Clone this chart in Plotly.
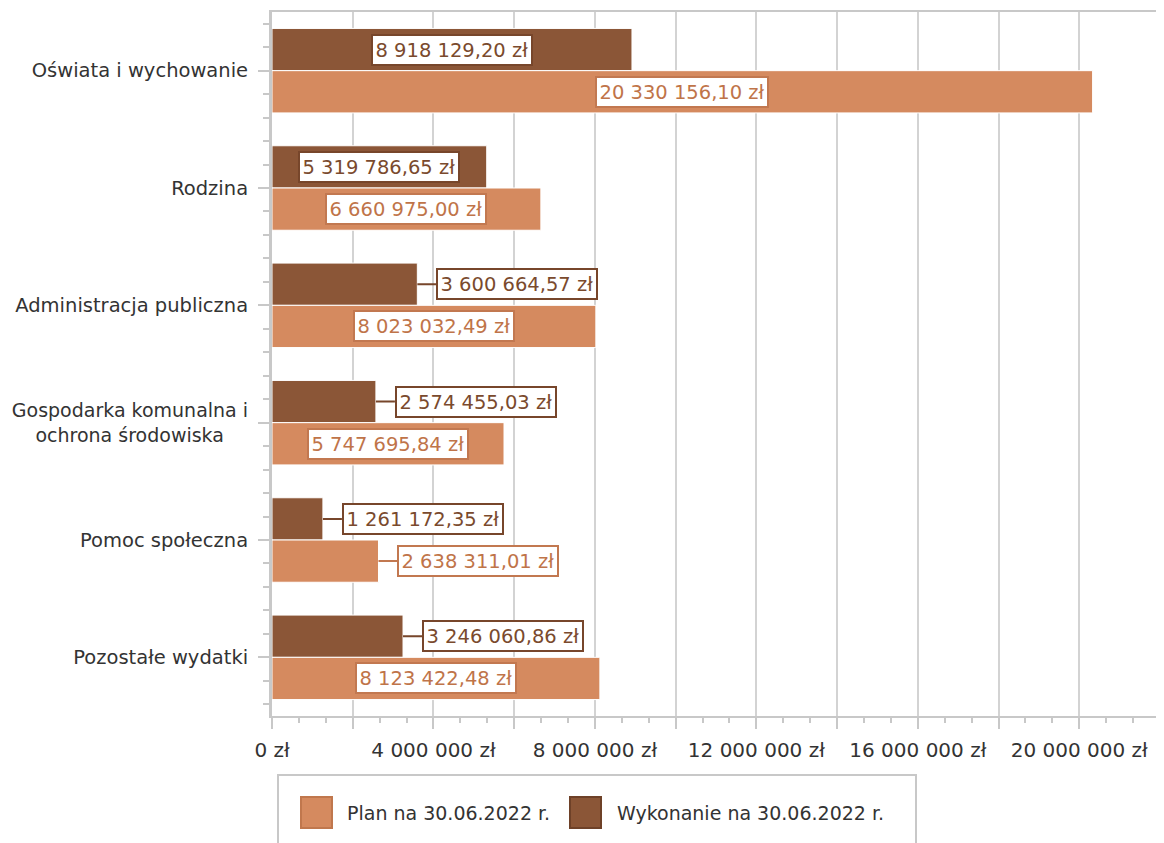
import plotly.graph_objects as go

categories = [
    "Oświata i wychowanie",
    "Rodzina",
    "Administracja publiczna",
    "<span style='font-size:19px'>Gospodarka komunalna i<br>ochrona środowiska&nbsp;&nbsp;&nbsp;&nbsp;</span>",
    "Pomoc społeczna",
    "Pozostałe wydatki",
]
plan_values = [20330156.10, 6660975.00, 8023032.49, 5747695.84, 2638311.01, 8123422.48]
wykonanie_values = [8918129.20, 5319786.65, 3600664.57, 2574455.03, 1261172.35, 3246060.86]
series_names = ["Plan na 30.06.2022 r.", "Wykonanie na 30.06.2022 r."]
x_tick_values = [0, 2e6, 4e6, 6e6, 8e6, 10e6, 12e6, 14e6, 16e6, 18e6, 20e6, 22e6]
x_tick_labels = ["0 zł", "", "4 000 000 zł", "", "8 000 000 zł", "", "12 000 000 zł", "",
                 "16 000 000 zł", "", "20 000 000 zł", ""]

FONT = "DejaVu Sans"
DARK = "#8B5637"
ORANGE = "#D58A5F"
DARK_TXT = "#7A4A2D"
ORANGE_TXT = "#BF7449"
DARK_BORDER = "#77462B"
ORANGE_BORDER = "#C27850"
GRID = "#D3D3D3"
AXIS = "#C8C8C8"
TXT = "#333333"

# page offset of the figure div (browser body margin)
OFF = 8
W, H = 1164 - OFF, 843 - OFF
ML, MR, MT, MB = 272 - OFF, 4, 12 - OFF, 127
PW, PH = W - ML - MR, H - MT - MB

BARGAP = 0.28
bar_w = (1 - BARGAP) / 2
INSIDE_MIN = 4.5e6

idx = list(range(len(categories)))

fig = go.Figure()
fig.add_trace(go.Bar(
    y=idx, x=wykonanie_values, orientation="h", name=series_names[1],
    marker=dict(color=DARK, line=dict(color="white", width=1)),
    showlegend=False, hoverinfo="x",
))
fig.add_trace(go.Bar(
    y=idx, x=plan_values, orientation="h", name=series_names[0],
    marker=dict(color=ORANGE, line=dict(color="white", width=1)),
    showlegend=False, hoverinfo="x",
))


def fmt(v):
    return f"{v:,.2f}".replace(",", " ").replace(".", ",") + " zł"


def add_label(val, yc, txt_color, border_color):
    common = dict(
        text=fmt(val), y=yc, xref="x", yref="y",
        font=dict(family=FONT, size=19.5, color=txt_color),
        bgcolor="white", bordercolor=border_color, borderwidth=2, borderpad=2.5,
    )
    if val >= INSIDE_MIN:
        fig.add_annotation(x=val / 2, showarrow=False, **common)
    else:
        fig.add_annotation(x=val, showarrow=True, ax=19, ay=0, axref="pixel", ayref="pixel",
                           xanchor="left", arrowhead=0, arrowwidth=2,
                           arrowcolor=border_color, standoff=0, **common)


for i in idx:
    add_label(wykonanie_values[i], i - bar_w / 2, DARK_TXT, DARK_BORDER)
    add_label(plan_values[i], i + bar_w / 2, ORANGE_TXT, ORANGE_BORDER)


def px(x):
    return (x - OFF - ML) / PW


def py(y):
    return (OFF + H - MB - y) / PH


# legend frame and items
fig.add_shape(type="rect", xref="paper", yref="paper",
              x0=px(278), x1=px(916), y0=py(775), y1=py(870),
              line=dict(color=AXIS, width=2), fillcolor="rgba(0,0,0,0)")
legend_items = [(ORANGE, "#C0774D", series_names[0], 301, 345),
                (DARK, "#6E4128", series_names[1], 570, 615)]
for fill, edge, name, sx, tx in legend_items:
    fig.add_shape(type="rect", xref="paper", yref="paper",
                  x0=px(sx), x1=px(sx + 31), y0=py(797), y1=py(828),
                  line=dict(color=edge, width=2), fillcolor=fill)
    fig.add_annotation(xref="paper", yref="paper", x=px(tx), y=py(813),
                       xanchor="left", yanchor="middle", showarrow=False, text=name,
                       font=dict(family=FONT, size=19, color=TXT))

fig.update_layout(
    width=W, height=H,
    margin=dict(l=ML, r=MR, t=MT, b=MB, autoexpand=False),
    paper_bgcolor="white", plot_bgcolor="white",
    barmode="group", bargap=BARGAP, bargroupgap=0,
    showlegend=False,
    font=dict(family=FONT, size=19, color=TXT),
    xaxis=dict(
        range=[0, 22e6], tickmode="array", tickvals=x_tick_values, ticktext=x_tick_labels,
        showgrid=True, gridcolor=GRID, gridwidth=2, zeroline=False,
        showline=True, linecolor=AXIS, linewidth=2, mirror=True,
        ticks="outside", ticklen=11, tickwidth=2, tickcolor=AXIS,
        tickfont=dict(family=FONT, size=20, color=TXT),
        ticklabelstandoff=4,
        minor=dict(dtick=2e6 / 3, tick0=0, ticks="outside", ticklen=5, tickwidth=2, tickcolor=AXIS, showgrid=False),
    ),
    yaxis=dict(
        range=[5.5, -0.5], tickmode="array", tickvals=idx, ticktext=categories,
        showgrid=False, zeroline=False,
        showline=True, linecolor=AXIS, linewidth=3,
        ticks="outside", ticklen=11, tickwidth=2, tickcolor=AXIS,
        tickfont=dict(family=FONT, size=19.5, color=TXT),
        ticklabelstandoff=6,
        minor=dict(dtick=0.2, tick0=0, ticks="outside", ticklen=6, tickwidth=2, tickcolor=AXIS, showgrid=False),
    ),
)

fig.write_html("out.html")
